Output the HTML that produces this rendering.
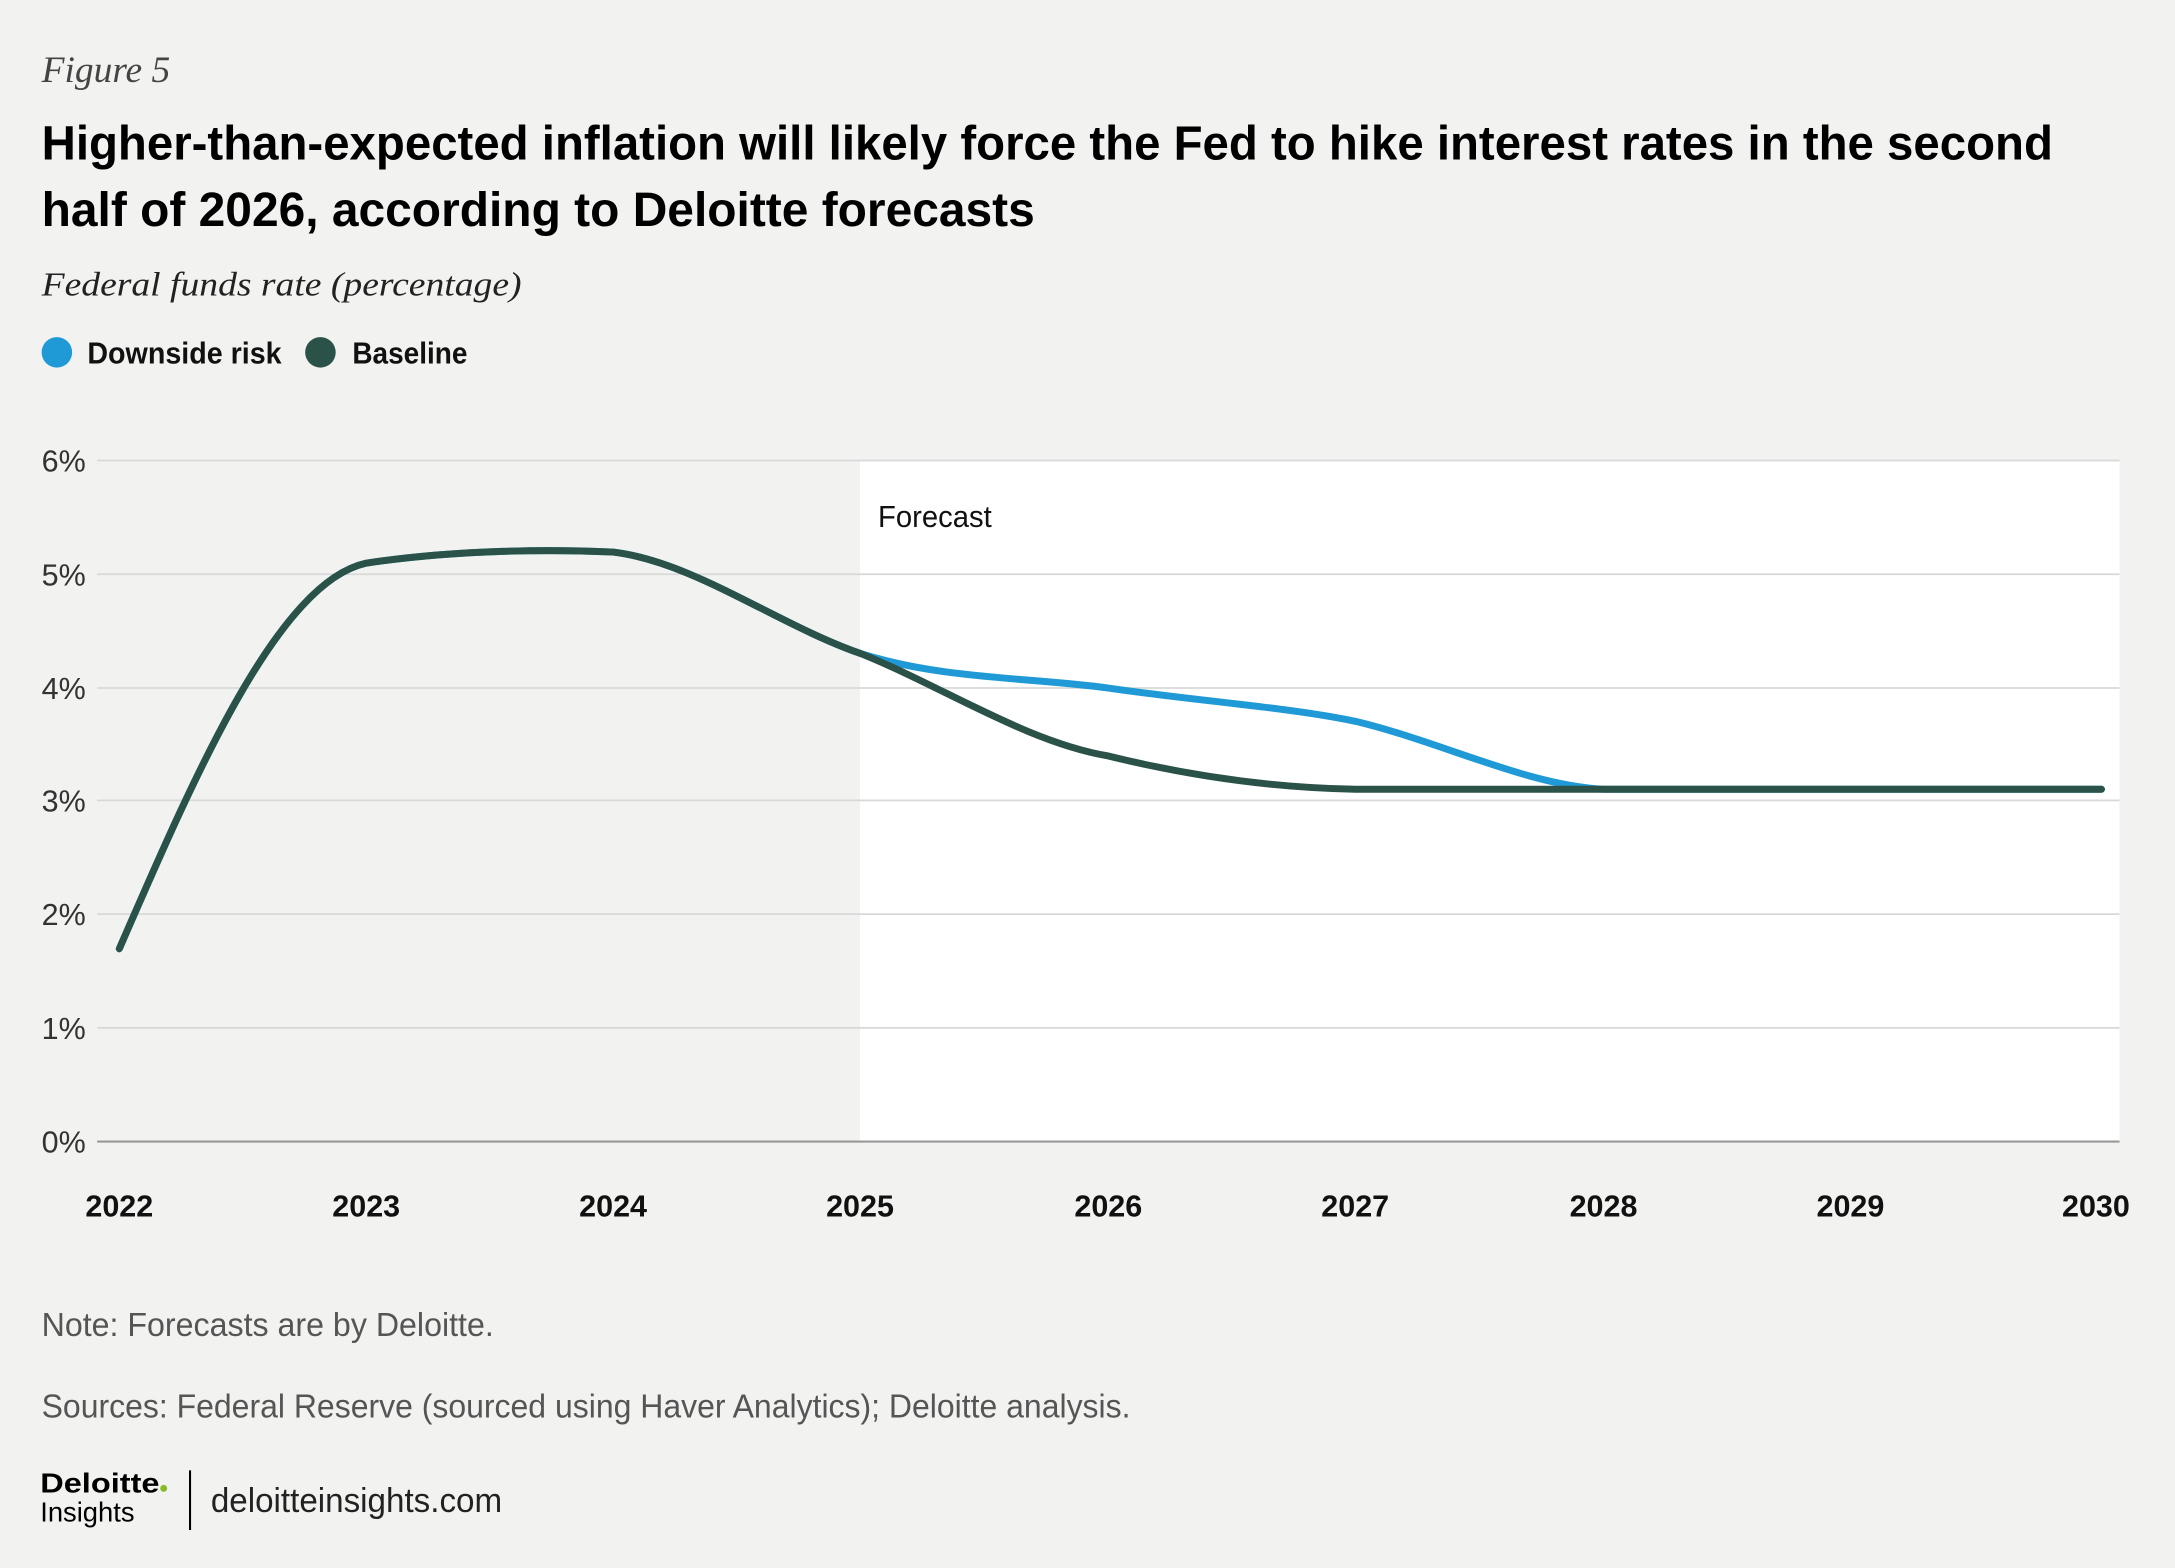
<!DOCTYPE html>
<html><head><meta charset="utf-8"><style>
html,body{margin:0;padding:0;background:#f2f3f1;}
svg{display:block;}
</style></head><body>
<svg width="2175" height="1568" viewBox="0 0 1568 1130.4" preserveAspectRatio="none" xmlns="http://www.w3.org/2000/svg">
<rect width="1568" height="1131" fill="#f2f3f1"/>
<text x="30" y="59" font-family="Liberation Serif, serif" font-style="italic" font-size="27" fill="#444">Figure 5</text>
<text x="30" y="115" font-family="Liberation Sans, sans-serif" font-weight="bold" font-size="35" fill="#000" textLength="1450" lengthAdjust="spacingAndGlyphs">Higher-than-expected inflation will likely force the Fed to hike interest rates in the second</text>
<text x="30" y="163" font-family="Liberation Sans, sans-serif" font-weight="bold" font-size="35" fill="#000" textLength="716" lengthAdjust="spacingAndGlyphs">half of 2026, according to Deloitte forecasts</text>
<text x="30" y="213" font-family="Liberation Serif, serif" font-style="italic" font-size="24" fill="#222" textLength="346" lengthAdjust="spacingAndGlyphs">Federal funds rate (percentage)</text>
<circle cx="41" cy="254" r="11" fill="#1f9ad6"/>
<text x="63" y="262" font-family="Liberation Sans, sans-serif" font-weight="bold" font-size="22" fill="#111" textLength="140" lengthAdjust="spacingAndGlyphs">Downside risk</text>
<circle cx="231" cy="254" r="11" fill="#2b5248"/>
<text x="254" y="262" font-family="Liberation Sans, sans-serif" font-weight="bold" font-size="22" fill="#111" textLength="83" lengthAdjust="spacingAndGlyphs">Baseline</text>
<rect x="620" y="332" width="908" height="491" fill="#fff"/>
<g stroke="#d8d8d8" stroke-width="1.3">
<line x1="70" x2="1528" y1="332" y2="332"/><line x1="70" x2="1528" y1="414" y2="414"/>
<line x1="70" x2="1528" y1="496" y2="496"/><line x1="70" x2="1528" y1="577" y2="577"/>
<line x1="70" x2="1528" y1="659" y2="659"/><line x1="70" x2="1528" y1="741" y2="741"/>
</g>
<line x1="70" x2="1528" y1="823" y2="823" stroke="#999" stroke-width="1.5"/>
<g font-family="Liberation Sans, sans-serif" font-size="22" fill="#333">
<text x="30" y="340">6%</text><text x="30" y="422">5%</text><text x="30" y="504">4%</text>
<text x="30" y="585">3%</text><text x="30" y="667">2%</text><text x="30" y="749">1%</text><text x="30" y="831">0%</text>
<text x="633" y="380" fill="#111" textLength="82" lengthAdjust="spacingAndGlyphs">Forecast</text>
</g>
<g font-family="Liberation Sans, sans-serif" font-weight="bold" font-size="22" fill="#111" text-anchor="middle">
<text x="86" y="877">2022</text><text x="264" y="877">2023</text><text x="442" y="877">2024</text>
<text x="620" y="877">2025</text><text x="799" y="877">2026</text><text x="977" y="877">2027</text>
<text x="1156" y="877">2028</text><text x="1334" y="877">2029</text><text x="1511" y="877">2030</text>
</g>
<path d="M86,684 C140,560 200,420 264,406 C330,396 400,396 442,398 C500,405 560,450 620,471 C680,490 740,488 799,496 C860,505 930,510 977,520 C1040,535 1100,566 1156,569 L1515,569" fill="none" stroke="#1f9ad6" stroke-width="5" stroke-linecap="round"/>
<path d="M86,684 C140,560 200,420 264,406 C330,396 400,396 442,398 C500,405 560,450 620,471 C680,495 740,535 799,545 C860,560 920,568 977,569 L1515,569" fill="none" stroke="#2b5248" stroke-width="5" stroke-linecap="round"/>
<g font-family="Liberation Sans, sans-serif" font-size="24" fill="#555">
<text x="30" y="963" textLength="326" lengthAdjust="spacingAndGlyphs">Note: Forecasts are by Deloitte.</text>
<text x="30" y="1022" textLength="785" lengthAdjust="spacingAndGlyphs">Sources: Federal Reserve (sourced using Haver Analytics); Deloitte analysis.</text>
</g>
<text x="29" y="1076" font-family="Liberation Sans, sans-serif" font-weight="bold" font-size="20" fill="#000" textLength="86" lengthAdjust="spacingAndGlyphs">Deloitte</text>
<circle cx="118" cy="1073" r="2.5" fill="#86bc25"/>
<text x="29" y="1097" font-family="Liberation Sans, sans-serif" font-size="20" fill="#000" textLength="68" lengthAdjust="spacingAndGlyphs">Insights</text>
<line x1="137" x2="137" y1="1060" y2="1103" stroke="#000" stroke-width="1.5"/>
<text x="152" y="1090" font-family="Liberation Sans, sans-serif" font-size="25" fill="#222" textLength="210" lengthAdjust="spacingAndGlyphs">deloitteinsights.com</text>
</svg>
</body></html>
